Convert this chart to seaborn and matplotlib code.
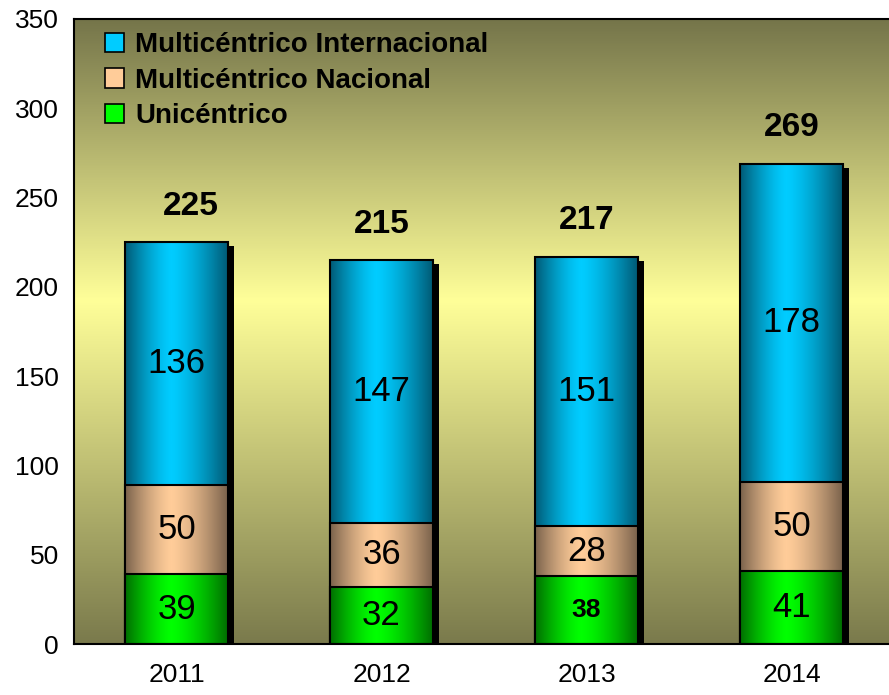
import numpy as np
import pandas as pd
import matplotlib
matplotlib.use('Agg')
import matplotlib.pyplot as plt
from matplotlib import colors
from matplotlib.patches import Rectangle
from matplotlib.transforms import ScaledTranslation
import seaborn as sns

years = ['2011', '2012', '2013', '2014']
unicentrico = [39, 32, 38, 41]
nacional = [50, 36, 28, 50]
internacional = [136, 147, 151, 178]
totals = [225, 215, 217, 269]

series_names = ['Multicéntrico Internacional', 'Multicéntrico Nacional', 'Unicéntrico']
# (edge colour, centre colour) for the horizontal "cylinder" gradient
grad = {
    'Multicéntrico Internacional': ('#005a75', '#00ccff'),
    'Multicéntrico Nacional': ('#7a624c', '#ffcc99'),
    'Unicéntrico': ('#006e00', '#00ff00'),
}

sns.set_style('white')
plt.rcParams['font.family'] = ['Liberation Sans', 'DejaVu Sans']
plt.rcParams['text.color'] = 'black'
plt.rcParams['xtick.color'] = 'black'
plt.rcParams['ytick.color'] = 'black'

uni = np.array(unicentrico)
nac = np.array(nacional)
inter = np.array(internacional)
df = pd.DataFrame({'year': years, 'uni': uni, 'nac_cum': uni + nac,
                   'int_cum': uni + nac + inter})

fig = plt.figure(figsize=(8.89, 6.95), dpi=100)
ax = fig.add_axes([74 / 889, 51 / 695, (894 - 74) / 889, (676 - 51) / 695])

# background gradient: olive - pale yellow - olive
bg = colors.LinearSegmentedColormap.from_list(
    'bg', [(0, '#7a7a4c'), (0.55, '#ffff99'), (1, '#75754a')])
ax.imshow(np.linspace(0, 1, 256).reshape(-1, 1), cmap=bg, origin='lower',
          extent=[0, 1, 0, 1], transform=ax.transAxes, aspect='auto', zorder=0)

# shadow behind the stacks
sns.barplot(data=df, x='year', y='int_cum', color='black', width=0.5,
            saturation=1, ax=ax, zorder=1, linewidth=0)
for p in ax.patches:
    p.set_transform(ax.transData + ScaledTranslation(6 / 100, -4 / 100, fig.dpi_scale_trans))

layers = [('int_cum', 'Multicéntrico Internacional'),
          ('nac_cum', 'Multicéntrico Nacional'),
          ('uni', 'Unicéntrico')]
# cylinder shading: bright a bit left of centre, dark at both edges
xs = np.linspace(-1, 1, 200)
c = -0.1
t = np.where(xs < c, (c - xs) / (c + 1), (xs - c) / (1 - c))
prof = t ** 1.4
for k, (col, name) in enumerate(layers):
    n0 = len(ax.patches)
    sns.barplot(data=df, x='year', y=col, color=grad[name][1], width=0.5,
                saturation=1, ax=ax, edgecolor='black', linewidth=1.5)
    cm = colors.LinearSegmentedColormap.from_list(name, [grad[name][1], grad[name][0]])
    for p in ax.patches[n0:]:
        x0, y0 = p.get_x(), p.get_y()
        w, h = p.get_width(), p.get_height()
        ax.imshow(prof.reshape(1, -1), cmap=cm, vmin=0, vmax=1, aspect='auto',
                  extent=[x0, x0 + w, y0, y0 + h], zorder=3 + 2 * k)
        p.set_facecolor('none')
        p.set_zorder(4 + 2 * k)

# segment labels
pos = np.arange(len(years))
for i in pos:
    ax.text(i, inter[i] / 2 + uni[i] + nac[i], str(inter[i]), ha='center', va='center',
            fontsize=25, zorder=20)
    ax.text(i, nac[i] / 2 + uni[i], str(nac[i]), ha='center', va='center',
            fontsize=25, zorder=20)
    if years[i] == '2013':
        ax.text(i, uni[i] / 2, str(uni[i]), ha='center', va='center',
                fontsize=19, fontweight='bold', zorder=20)
    else:
        ax.text(i, uni[i] / 2, str(uni[i]), ha='center', va='center',
                fontsize=25, zorder=20)
    dx = 0.07 if i == 0 else 0
    ax.text(i + dx, totals[i] + 20, str(totals[i]), ha='center', va='center',
            fontsize=24, fontweight='bold', zorder=20)

ax.set_xlim(-0.5, 3.5)
ax.set_ylim(0, 350)
ax.set_yticks(range(0, 351, 50))
ax.set_xticks(pos)
ax.set_xticklabels(years)
ax.set_xticks(np.arange(-0.5, 4, 1), minor=True)
ax.tick_params(axis='x', which='major', length=0, labelsize=19, pad=14)
ax.tick_params(axis='x', which='minor', length=7, width=1.2, direction='out')
ax.tick_params(axis='y', length=7, width=1.2, direction='out', labelsize=19, pad=4)
ax.set_xlabel('')
ax.set_ylabel('')
for s in ax.spines.values():
    s.set_color('black')
    s.set_linewidth(1.5)
    s.set_zorder(30)

handles = [Rectangle((0, 0), 1, 1, facecolor=grad[n][1], edgecolor='black', linewidth=1.2)
           for n in series_names]
leg = ax.legend(handles, series_names, loc='upper left', bbox_to_anchor=(0.024, 0.997),
                borderaxespad=0, frameon=False, prop={'size': 20, 'weight': 'bold'},
                handlelength=0.7, handleheight=0.7, handletextpad=0.4, labelspacing=0.35)
leg.set_zorder(25)

fig.savefig('out.png', dpi=100)
